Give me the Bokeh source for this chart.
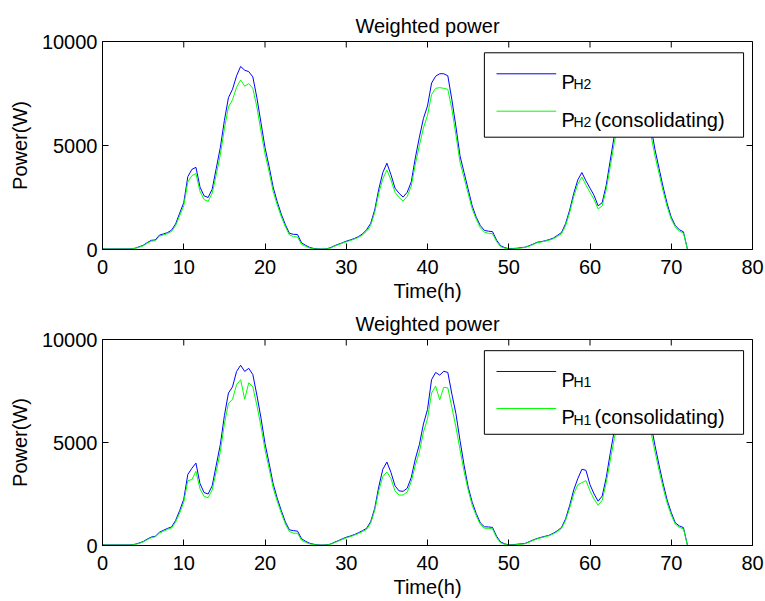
import numpy as np
from bokeh.plotting import figure
from bokeh.models import Range1d, FixedTicker, BoxAnnotation, Arrow, Label
from bokeh.layouts import column
from bokeh.embed import file_html
from bokeh.resources import INLINE

# ---------------- data ----------------
time_h = np.arange(0, 72.5, 0.5)          # half-hour samples, 0 .. 72 h
x_ticks = [0, 10, 20, 30, 40, 50, 60, 70, 80]
y_ticks = [0, 5000, 10000]

# top panel: P_H2 and P_H2 (consolidating)
p_h2 = [
    30, 30, 30, 30, 30, 30, 30, 30, 60, 130,
    200, 330, 440, 460, 690, 750, 810, 930, 1230, 1750,
    2250, 3500, 3850, 3950, 3000, 2580, 2500, 2900, 3900, 4900,
    6200, 7300, 7700, 8350, 8800, 8620, 8550, 8300, 7300, 6100,
    4900, 4000, 3000, 2300, 1700, 1200, 780, 730, 720, 320,
    200, 100, 50, 30, 20, 30, 80, 170, 250, 320,
    400, 460, 530, 620, 750, 950, 1250, 1900, 2900, 3700,
    4150, 3600, 2950, 2700, 2520, 2750, 3250, 4400, 5400, 6300,
    6900, 8000, 8330, 8450, 8450, 8350, 7200, 5900, 4500, 3700,
    2900, 2100, 1550, 1150, 920, 880, 860, 450, 180, 90,
    40, 50, 60, 90, 110, 180, 260, 350, 380, 420,
    480, 550, 680, 820, 1250, 1900, 2700, 3350, 3700, 3300,
    2950, 2600, 2100, 2250, 3100, 4300, 5500, 6600, 7500, 8200,
    8500, 8600, 8550, 8200, 7200, 5900, 4800, 3900, 3000, 2200,
    1550, 1150, 950, 850, 0,
]
p_h2_cons = [
    20, 20, 20, 20, 20, 20, 20, 20, 50, 110,
    180, 300, 400, 420, 640, 700, 760, 870, 1150, 1630,
    2100, 3250, 3550, 3650, 2800, 2400, 2320, 2700, 3600, 4550,
    5800, 6850, 7200, 7800, 8150, 7850, 7980, 7750, 6850, 5700,
    4600, 3750, 2800, 2150, 1580, 1100, 700, 620, 600, 250,
    150, 70, 30, 20, 15, 20, 60, 150, 230, 300,
    370, 430, 500, 580, 700, 880, 1150, 1780, 2700, 3400,
    3820, 3350, 2750, 2500, 2330, 2550, 3050, 4100, 5000, 5850,
    6450, 7450, 7750, 7780, 7750, 7700, 6750, 5500, 4200, 3450,
    2700, 1950, 1450, 1050, 830, 780, 760, 380, 140, 60,
    25, 30, 40, 70, 100, 160, 240, 330, 360, 400,
    450, 520, 630, 760, 1150, 1780, 2550, 3150, 3480, 3100,
    2750, 2400, 1950, 2100, 2900, 4000, 5150, 6150, 7000, 7600,
    7850, 7900, 7850, 7600, 6700, 5500, 4500, 3650, 2800, 2050,
    1450, 1080, 880, 790, 0,
]

# bottom panel: P_H1 and P_H1 (consolidating)
p_h1 = [
    30, 30, 30, 30, 30, 30, 30, 30, 60, 120,
    190, 310, 410, 450, 640, 740, 830, 900, 1220, 1700,
    2250, 3450, 3750, 4000, 3000, 2570, 2500, 2900, 3900, 4900,
    6300, 7400, 7700, 8450, 8750, 8450, 8600, 8300, 7300, 6200,
    4950, 4000, 3000, 2300, 1700, 1150, 760, 720, 700, 330,
    200, 110, 60, 30, 20, 30, 60, 150, 230, 320,
    400, 460, 530, 620, 720, 830, 1150, 1800, 2850, 3700,
    4050, 3550, 2900, 2650, 2630, 2780, 3300, 4200, 4900, 5900,
    6600, 8050, 8400, 8270, 8460, 8400, 7350, 6400, 5100, 3900,
    2850, 2100, 1550, 1100, 910, 900, 880, 450, 170, 80,
    30, 40, 60, 80, 100, 180, 270, 340, 400, 450,
    500, 600, 720, 880, 1300, 1950, 2700, 3250, 3700, 3650,
    2950, 2500, 2150, 2400, 3300, 4500, 5600, 6700, 7500, 8200,
    8500, 8400, 8550, 8200, 7200, 5900, 4850, 3900, 3000, 2200,
    1600, 1100, 950, 870, 0,
]
p_h1_cons = [
    20, 20, 20, 20, 20, 20, 20, 20, 50, 100,
    170, 280, 380, 420, 600, 690, 780, 850, 1140, 1580,
    2100, 3150, 3200, 3600, 2750, 2380, 2320, 2700, 3600, 4550,
    5900, 6900, 7100, 7800, 8050, 7100, 7900, 7700, 6800, 5800,
    4650, 3750, 2800, 2150, 1580, 1050, 680, 600, 590, 260,
    150, 80, 40, 20, 15, 20, 50, 130, 210, 290,
    370, 430, 500, 580, 680, 780, 1080, 1700, 2650, 3350,
    3570, 3250, 2650, 2450, 2450, 2600, 3100, 3900, 4550, 5500,
    6150, 7400, 7740, 7070, 7680, 7650, 6700, 5750, 4650, 3600,
    2700, 1950, 1450, 1020, 840, 830, 810, 380, 130, 50,
    20, 25, 40, 60, 85, 160, 250, 320, 380, 430,
    480, 570, 680, 830, 1220, 1820, 2500, 2950, 3050, 3150,
    2650, 2250, 1950, 2200, 3050, 4150, 5200, 6200, 6950, 7600,
    7850, 7100, 7850, 7600, 6650, 5500, 4550, 3650, 2800, 2050,
    1480, 1030, 880, 810, 0,
]

title_text = "Weighted power"
x_label = "Time(h)"
y_label = "Power(W)"

FONT = "Liberation Sans"
FS = "20px"
BLUE = "#0000ff"
GREEN = "#00ff00"


def make_panel(blue, green, sub, height, top, bottom):
    p = figure(width=764, height=height, output_backend="svg", toolbar_location=None,
               x_range=Range1d(0, 80), y_range=Range1d(0, 10000),
               min_border_left=102, min_border_right=12,
               min_border_top=top, min_border_bottom=bottom)
    p.title.text = title_text
    p.title.align = "center"
    p.title.text_font = FONT
    p.title.text_font_size = FS
    p.title.text_font_style = "normal"
    p.title.text_color = "black"
    p.title.standoff = 10
    p.grid.visible = False
    p.outline_line_color = "black"
    p.outline_line_alpha = 1
    p.outline_line_width = 1
    p.background_fill_color = "white"
    p.border_fill_color = "white"

    p.line(time_h, blue, line_color=BLUE, line_width=1)
    p.line(time_h, green, line_color=GREEN, line_width=1)

    # inward ticks mirrored on the top and right edges (clipped to the frame)
    p.scatter(x_ticks, [p.y_range.end] * len(x_ticks), marker="dash", angle=np.pi / 2,
              size=12, line_color="black", line_width=1)
    p.scatter([p.x_range.end] * len(y_ticks), y_ticks, marker="dash",
              size=12, line_color="black", line_width=1)

    for ax, ticks in ((p.xaxis[0], x_ticks), (p.yaxis[0], y_ticks)):
        ax.ticker = FixedTicker(ticks=ticks)
        ax.axis_line_color = "black"
        ax.major_tick_line_color = "black"
        ax.major_tick_in = 6
        ax.major_tick_out = 0
        ax.minor_tick_line_color = None
        ax.major_label_text_font = FONT
        ax.major_label_text_font_size = FS
        ax.major_label_text_color = "black"
        ax.axis_label_text_font = FONT
        ax.axis_label_text_font_size = FS
        ax.axis_label_text_font_style = "normal"
        ax.axis_label_text_color = "black"
    p.xaxis.axis_label = x_label
    p.yaxis.axis_label = y_label
    p.xaxis[0].major_label_standoff = 10
    p.xaxis[0].axis_label_standoff = 3
    p.yaxis[0].major_label_standoff = 5
    p.yaxis[0].axis_label_standoff = 8

    # legend box (drawn by hand so that the labels can carry subscripts)
    p.add_layout(BoxAnnotation(left=47.0, right=78.9, top=9457, bottom=5399,
                               fill_color="white", fill_alpha=1,
                               line_color="black", line_alpha=1, line_width=1))
    rows = [(8447, BLUE, 8043, 7933, ""), (6649, GREEN, 6236, 6115, "(consolidating)")]
    for y_line, col, y_base, y_sub, tail in rows:
        p.add_layout(Arrow(end=None, x_start=48.49, y_start=y_line, x_end=55.84, y_end=y_line,
                           line_color=col, line_width=1))
        p.add_layout(Label(x=56.49, y=y_base, text="P", text_font=FONT, text_font_size=FS,
                           text_baseline="alphabetic", text_color="black"))
        p.add_layout(Label(x=57.97, y=y_sub, text=sub, text_font=FONT, text_font_size="14px",
                           text_baseline="alphabetic", text_color="black"))
        if tail:
            p.add_layout(Label(x=60.55, y=y_base, text=tail, text_font=FONT,
                               text_font_size=FS, text_baseline="alphabetic",
                               text_color="black"))
    return p


p_top = make_panel(p_h2, p_h2_cons, "H2", 305, 41, 56)
p_bot = make_panel(p_h1, p_h1_cons, "H1", 295, 34, 53)

layout = column(p_top, p_bot, spacing=0)
open("out.html", "w").write(file_html(layout, INLINE))
